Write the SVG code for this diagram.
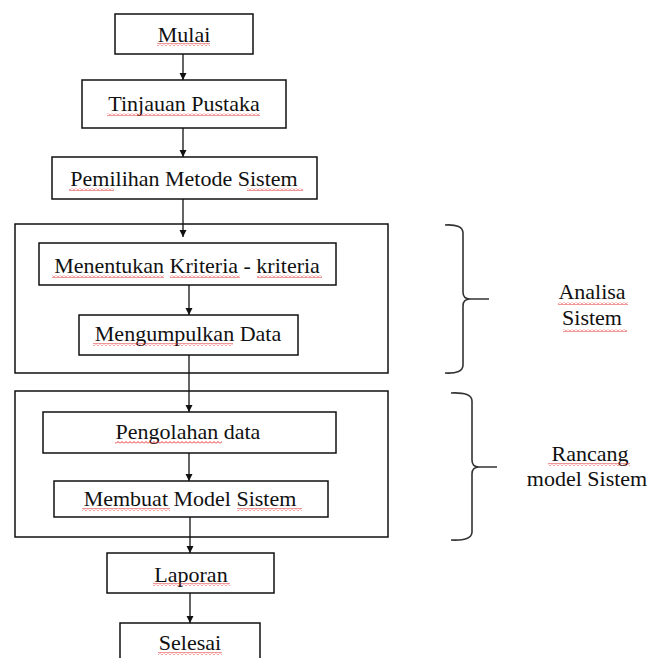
<svg xmlns="http://www.w3.org/2000/svg" width="661" height="658" viewBox="0 0 661 658">
<style>
.box{fill:#fff;stroke:#111;stroke-width:1.5}
.frame{fill:none;stroke:#111;stroke-width:1.5}
.t{font-family:"Liberation Serif","Times New Roman",serif;font-size:22px;fill:#111;text-anchor:middle}
.c{stroke:#111;stroke-width:1.3;fill:none}
.br{stroke:#333;stroke-width:1.6;fill:none}
.sq{fill:url(#wave)}
</style>
<defs>
<marker id="ah" markerWidth="8" markerHeight="8" refX="7" refY="4" orient="auto" markerUnits="userSpaceOnUse">
<path d="M0,0.5 L7,4 L0,7.5 Z" fill="#111"/>
</marker>
<pattern id="wave" width="4" height="3" patternUnits="userSpaceOnUse">
<path d="M0,2.5 L2,0.5 L4,2.5" fill="none" stroke="#e03030" stroke-width="1"/>
</pattern>
</defs>
<rect width="661" height="658" fill="#fff"/>

<g id="frame-analisa"><rect class="frame" x="15" y="224" width="373" height="149"/></g>
<g id="frame-rancang"><rect class="frame" x="15" y="391" width="373" height="146"/></g>

<g id="connectors">
<line class="c" x1="183" y1="54" x2="183" y2="80" marker-end="url(#ah)"/>
<line class="c" x1="183" y1="128" x2="183" y2="157" marker-end="url(#ah)"/>
<line class="c" x1="183" y1="199" x2="183" y2="237" marker-end="url(#ah)"/>
<line class="c" x1="189" y1="285" x2="189" y2="315" marker-end="url(#ah)"/>
<line class="c" x1="189" y1="355" x2="189" y2="412" marker-end="url(#ah)"/>
<line class="c" x1="189" y1="453" x2="189" y2="481" marker-end="url(#ah)"/>
<line class="c" x1="190" y1="517" x2="190" y2="553" marker-end="url(#ah)"/>
<line class="c" x1="190" y1="593" x2="190" y2="623" marker-end="url(#ah)"/>
</g>

<g id="mulai"><rect class="box" x="115" y="14" width="138" height="40"/><text class="t" x="184" y="42">Mulai</text><rect class="sq" x="157" y="43" width="53" height="3"/></g>
<g id="tinjauan"><rect class="box" x="82" y="80" width="204" height="48"/><text class="t" x="184" y="111">Tinjauan Pustaka</text><rect class="sq" x="107" y="113" width="153" height="3"/></g>
<g id="pemilihan"><rect class="box" x="52" y="157" width="265" height="42"/><text class="t" x="184" y="186">Pemilihan Metode Sistem</text><rect class="sq" x="69" y="188" width="45" height="3"/><rect class="sq" x="247" y="188" width="56" height="3"/></g>
<g id="menentukan"><rect class="box" x="39" y="243" width="297" height="42"/><text class="t" x="187" y="273">Menentukan Kriteria - kriteria</text><rect class="sq" x="52" y="275" width="112" height="3"/><rect class="sq" x="170" y="275" width="70" height="3"/><rect class="sq" x="257" y="275" width="65" height="3"/></g>
<g id="mengumpulkan"><rect class="box" x="79" y="315" width="219" height="40"/><text class="t" x="188" y="341">Mengumpulkan Data</text><rect class="sq" x="93" y="343" width="140" height="3"/></g>
<g id="pengolahan"><rect class="box" x="43" y="412" width="293" height="41"/><text class="t" x="188" y="439">Pengolahan data</text><rect class="sq" x="115" y="441" width="107" height="3"/></g>
<g id="membuat"><rect class="box" x="54" y="481" width="274" height="36"/><text class="t" x="190" y="506">Membuat Model Sistem</text><rect class="sq" x="82" y="508" width="88" height="3"/><rect class="sq" x="237" y="508" width="65" height="3"/></g>
<g id="laporan"><rect class="box" x="107" y="553" width="167" height="40"/><text class="t" x="191" y="582">Laporan</text><rect class="sq" x="153" y="583" width="77" height="3"/></g>
<g id="selesai"><rect class="box" x="120" y="623" width="140" height="40"/><text class="t" x="190" y="650">Selesai</text><rect class="sq" x="158" y="652" width="64" height="3"/></g>

<g id="brace-analisa">
<path class="br" d="M445,225 Q463,224 463,233 L463,292 Q463,299 470,299 L489,299 M470,299 Q463,299 463,306 L463,365 Q463,374 445,373"/>
<text class="t" x="592" y="299">Analisa</text><rect class="sq" x="558" y="302" width="70" height="3"/>
<text class="t" x="592" y="325">Sistem</text><rect class="sq" x="563" y="329" width="64" height="3"/>
</g>
<g id="brace-rancang">
<path class="br" d="M451,393 Q472,392 472,401 L472,460 Q472,467 479,467 L497,467 M479,467 Q472,467 472,474 L472,532 Q472,541 451,540"/>
<text class="t" x="590" y="461">Rancang</text><rect class="sq" x="548" y="463" width="82" height="3"/>
<text class="t" x="587" y="486">model Sistem</text>
</g>
</svg>
